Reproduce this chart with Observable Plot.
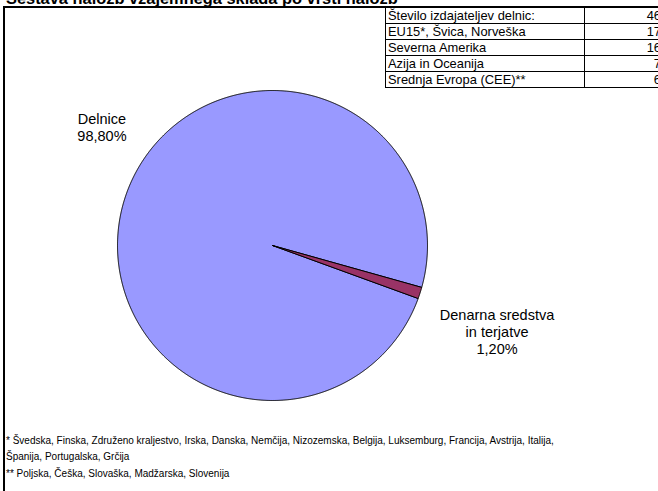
<!DOCTYPE html>
<html><head><meta charset="utf-8">
<script src="https://cdn.jsdelivr.net/npm/d3@7"></script>
<script src="https://cdn.jsdelivr.net/npm/@observablehq/plot@0.6"></script>
<style>
html,body{margin:0;padding:0;background:#fff;}
#wrap{position:relative;width:658px;height:491px;overflow:hidden;font-family:Arial,"Liberation Sans",sans-serif;color:#000;}
#frame{position:absolute;left:3px;top:6px;width:700px;height:500px;border-left:2px solid #000;border-top:2px solid #000;}
#title{position:absolute;left:6px;top:-10.5px;font-weight:bold;font-size:16.4px;line-height:16px;white-space:nowrap;}
#chart{position:absolute;left:0;top:0;}
#tbl{position:absolute;left:385px;top:7px;width:278px;border-collapse:collapse;font-size:12.9px;background:#fff;table-layout:fixed;}
#tbl td{border:1px solid #000;height:15px;padding:0 2px;line-height:15px;white-space:nowrap;overflow:hidden;}
#tbl td.v{text-align:right;padding-right:2px;}
#notes{position:absolute;left:6px;top:432.5px;font-size:10px;line-height:16.6px;white-space:nowrap;}
</style></head>
<body>
<div id="wrap">
  <div id="chart"></div>
  <div id="frame"></div>
  <div id="title"></div>
  <table id="tbl"><colgroup><col style="width:199px"><col style="width:79px"></colgroup><tbody></tbody></table>
  <div id="notes"></div>
</div>
<script>
// ---- data ----
const chartTitle = "Sestava naložb vzajemnega sklada po vrsti naložb";
const sliceNames = ["Delnice", "Denarna sredstva in terjatve"];
const sliceLabels = ["Delnice", "Denarna sredstva\nin terjatve"];
const sliceShares = [98.8, 1.2];
const sliceColors = ["#9999FF", "#993366"];
const firstSliceAngle = 110; // degrees, clockwise from 12 o'clock
const tableLabels = ["Število izdajateljev delnic:", "EU15*, Švica, Norveška", "Severna Amerika", "Azija in Oceanija", "Srednja Evropa (CEE)**"];
const tableValues = [46, 17, 16, 7, 6];
const noteLines = [
  "* Švedska, Finska, Združeno kraljestvo, Irska, Danska, Nemčija, Nizozemska, Belgija, Luksemburg, Francija, Avstrija, Italija,",
  "Španija, Portugalska, Grčija",
  "** Poljska, Češka, Slovaška, Madžarska, Slovenija"
];

// ---- geometry from data ----
const a0 = firstSliceAngle * Math.PI / 180;
const pie = d3.pie().sort(null).value(d => d.share).startAngle(a0).endAngle(a0 + 2 * Math.PI);
const slices = pie(sliceNames.map((name, i) => ({name, label: sliceLabels[i], share: sliceShares[i]})));
const outline = slices.flatMap(s => {
  const n = Math.max(4, Math.ceil((s.endAngle - s.startAngle) / (Math.PI / 720)));
  const pts = [{name: s.data.name, x: 0, y: 0}];
  for (let k = 0; k <= n; k++) {
    const a = s.startAngle + (s.endAngle - s.startAngle) * k / n;
    pts.push({name: s.data.name, x: Math.sin(a), y: Math.cos(a)});
  }
  pts.push({name: s.data.name, x: 0, y: 0});
  return pts;
});
const labels = slices.map(s => {
  const a = (s.startAngle + s.endAngle) / 2;
  return {name: s.data.name, text: s.data.label + "\n" + s.data.share.toFixed(2).replace(".", ",") + "%", x: Math.sin(a), y: Math.cos(a)};
});

const chart = Plot.plot({
  width: 658, height: 491,
  marginLeft: 117, marginRight: 231, marginTop: 90, marginBottom: 91,
  x: {domain: [-1, 1], axis: null},
  y: {domain: [-1, 1], axis: null},
  color: {domain: sliceNames, range: sliceColors},
  style: {background: "transparent", overflow: "visible", fontFamily: "Arial, 'Liberation Sans', sans-serif"},
  marks: [
    Plot.line(outline, {x: "x", y: "y", z: "name", fill: "name", stroke: "black", strokeWidth: 1, strokeLinejoin: "round"}),
    Plot.text(labels.filter(d => d.name === sliceNames[0]), {x: "x", y: "y", text: "text", dx: -23, dy: -71, fontSize: 14.5, lineHeight: 1.17, fill: "black"}),
    Plot.text(labels.filter(d => d.name === sliceNames[1]), {x: "x", y: "y", text: "text", dx: 77, dy: 39, fontSize: 14.5, lineHeight: 1.17, fill: "black"})
  ]
});
document.getElementById("chart").appendChild(chart);

document.getElementById("title").textContent = chartTitle;
const tb = document.querySelector("#tbl tbody");
tableLabels.forEach((l, i) => {
  const tr = document.createElement("tr");
  const t1 = document.createElement("td"); t1.textContent = l;
  const t2 = document.createElement("td"); t2.className = "v"; t2.textContent = tableValues[i];
  tr.appendChild(t1); tr.appendChild(t2); tb.appendChild(tr);
});
const notes = document.getElementById("notes");
noteLines.forEach(t => { const d = document.createElement("div"); d.textContent = t; notes.appendChild(d); });
</script>
</body></html>
